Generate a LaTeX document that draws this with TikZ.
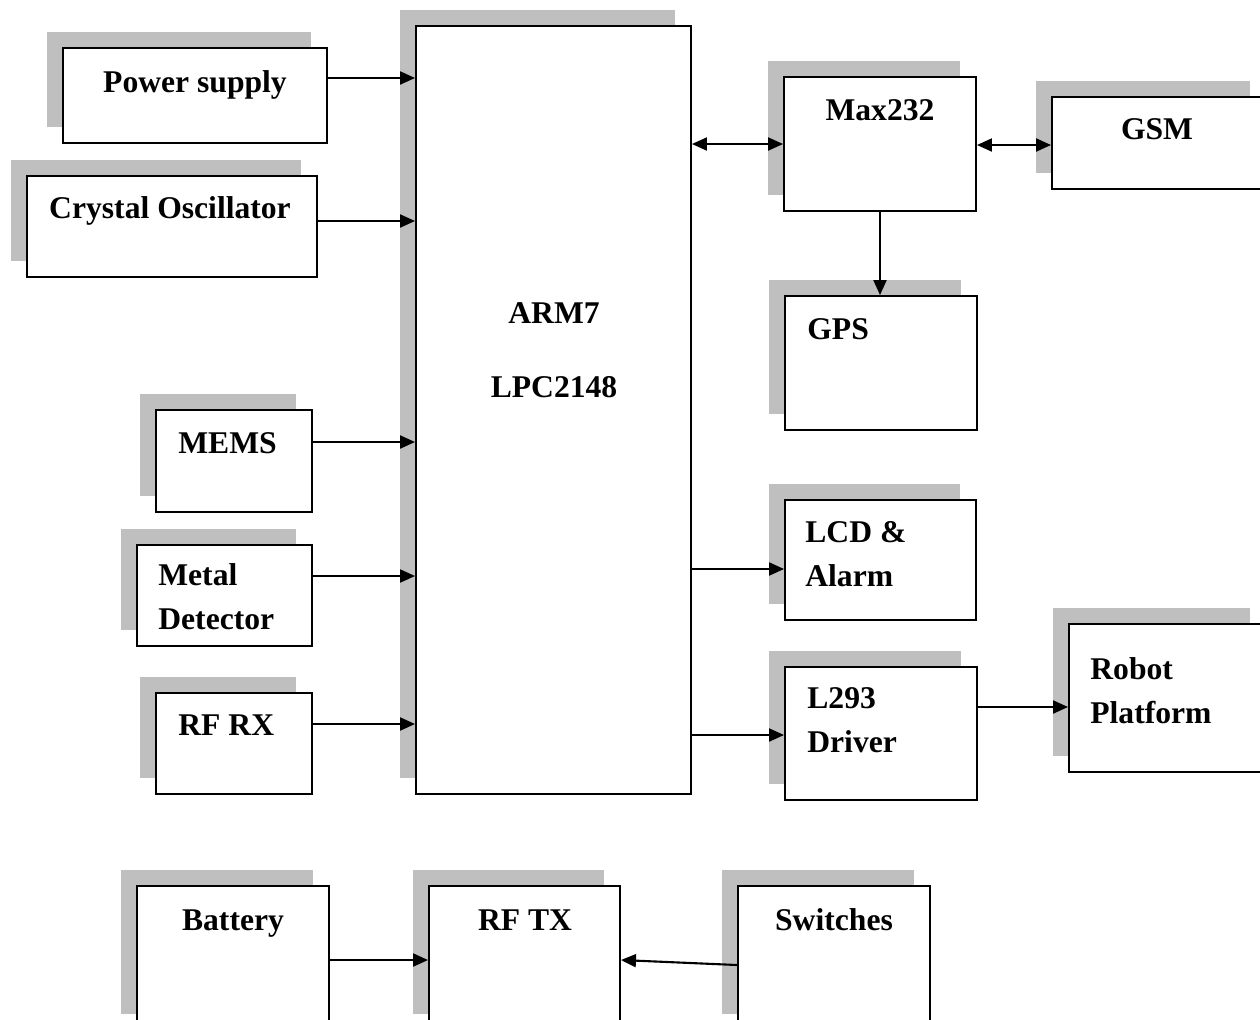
\documentclass[tikz,border=0pt]{standalone}
\usepackage{fontspec}
\setmainfont{Liberation Serif}
\usetikzlibrary{arrows.meta,positioning,fit,shadows}

\tikzset{
  blk/.style={draw, line width=1.1pt, fill=white, inner sep=0pt,
    general shadow={fill=gray!50, shadow xshift=-0.33cm, shadow yshift=0.32cm}},
  lbl/.style={font=\fontsize{18}{25}\selectfont\bfseries, inner sep=0pt, align=left},
  arr/.style={line width=1.2pt, -{Triangle[length=0.3cm,width=0.26cm]}},
  biarr/.style={line width=1.2pt, {Triangle[length=0.3cm,width=0.26cm]}-{Triangle[length=0.3cm,width=0.26cm]}},
}

\begin{document}
\begin{tikzpicture}[x=0.02cm, y=-0.02cm]
\useasboundingbox (0,0) rectangle (1260,1019);

% blocks
\node[blk, fit={(63,48) (327,143)}] (pwr) {};
\node[blk, fit={(27,176) (317,277)}] (xtal) {};
\node[blk, fit={(416,26) (691,794)}] (arm) {};
\node[blk, fit={(156,410) (312,512)}] (mems) {};
\node[blk, fit={(137,545) (312,646)}] (metal) {};
\node[blk, fit={(156,693) (312,794)}] (rfrx) {};
\node[blk, fit={(784,77) (976,211)}] (max) {};
\node[blk, fit={(1052,97) (1266,189)}] (gsm) {};
\node[blk, fit={(785,296) (977,430)}] (gps) {};
\node[blk, fit={(785,500) (976,620)}] (lcd) {};
\node[blk, fit={(785,667) (977,800)}] (drv) {};
\node[blk, fit={(1069,624) (1266,772)}] (robot) {};
\node[blk, fit={(137,886) (329,1030)}] (bat) {};
\node[blk, fit={(429,886) (620,1030)}] (rftx) {};
\node[blk, fit={(738,886) (930,1030)}] (sw) {};

% labels (multi-line ones sit on their last baseline)
\node[lbl, anchor=base] (pwrtxt) at (195,92) {Power supply};
\node[lbl, anchor=base] (xtaltxt) at (170,218) {Crystal Oscillator};
\node[lbl, anchor=base] (armtxt) at (554,323) {ARM7};
\node[lbl, anchor=base] (lpctxt) at (554,397) {LPC2148};
\node[lbl, anchor=base west] (memstxt) at (178,453) {MEMS};
\node[lbl, anchor=base west] (metaltxt) at (158,629) {Metal\\Detector};
\node[lbl, anchor=base west] (rfrxtxt) at (178,735) {RF RX};
\node[lbl, anchor=base] (maxtxt) at (880,120) {Max232};
\node[lbl, anchor=base] (gsmtxt) at (1157,139) {GSM};
\node[lbl, anchor=base west] (gpstxt) at (807,339) {GPS};
\node[lbl, anchor=base west] (lcdtxt) at (805,586) {LCD \&\\Alarm};
\node[lbl, anchor=base west] (drvtxt) at (807,752) {L293\\Driver};
\node[lbl, anchor=base west] (robottxt) at (1090,723) {Robot\\Platform};
\node[lbl, anchor=base] (battxt) at (233,930) {Battery};
\node[lbl, anchor=base] (rftxtxt) at (525,930) {RF TX};
\node[lbl, anchor=base] (swtxt) at (834,930) {Switches};

% connections
\draw[arr] (pwr.east |- 0,78) -- (arm.west |- 0,78);
\draw[arr] (xtal.east |- 0,221) -- (arm.west |- 0,221);
\draw[arr] (mems.east |- 0,442) -- (arm.west |- 0,442);
\draw[arr] (metal.east |- 0,576) -- (arm.west |- 0,576);
\draw[arr] (rfrx.east |- 0,724) -- (arm.west |- 0,724);
\draw[biarr] (arm.east |- 0,144) -- (max.west |- 0,144);
\draw[biarr] (max.east |- 0,145) -- (gsm.west |- 0,145);
\draw[arr] (max.south -| 880,0) -- (gps.north -| 880,0);
\draw[arr] (arm.east |- 0,569) -- (lcd.west |- 0,569);
\draw[arr] (arm.east |- 0,735) -- (drv.west |- 0,735);
\draw[arr] (drv.east |- 0,707) -- (robot.west |- 0,707);
\draw[arr] (bat.east |- 0,960) -- (rftx.west |- 0,960);
\draw[arr] (sw.west |- 0,965) -- (rftx.east |- 0,960);
\end{tikzpicture}
\end{document}
